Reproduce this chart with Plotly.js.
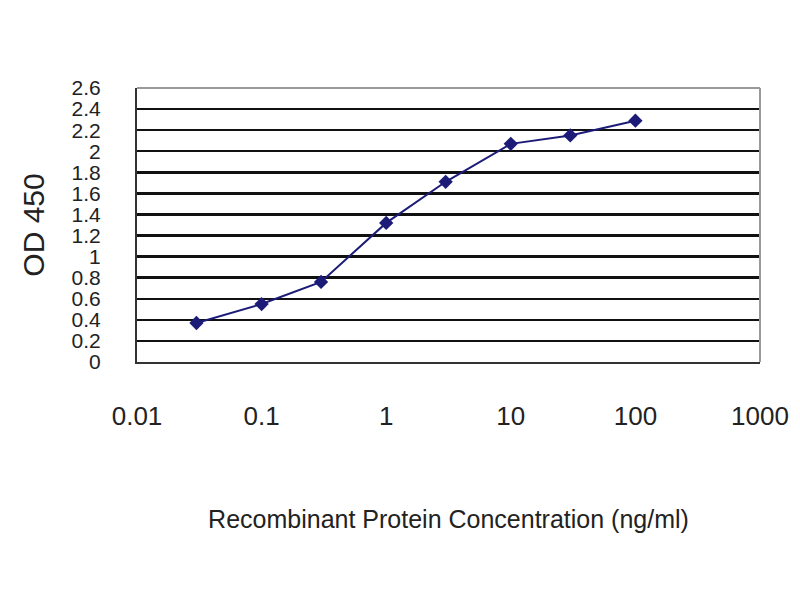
<!DOCTYPE html>
<html>
<head>
<meta charset="utf-8">
<script src="https://cdn.plot.ly/plotly-3.0.1.min.js"></script>
<style>html,body{margin:0;padding:0;background:#fff;}#chart{width:800px;height:600px;}</style>
</head>
<body>
<div id="chart"></div>
<script>
const concentrations = [0.03, 0.1, 0.3, 1, 3, 10, 30, 100];
const odValues = [0.37, 0.55, 0.76, 1.32, 1.71, 2.07, 2.15, 2.29];
const xTickVals = [0.01, 0.1, 1, 10, 100, 1000];
const xTickText = ['0.01', '0.1', '1', '10', '100', '1000'];
const yTickVals = [0, 0.2, 0.4, 0.6, 0.8, 1, 1.2, 1.4, 1.6, 1.8, 2, 2.2, 2.4, 2.6];
const yTickText = ['0', '0.2', '0.4', '0.6', '0.8', '1', '1.2', '1.4', '1.6', '1.8', '2', '2.2', '2.4', '2.6'];

const trace = {
  x: concentrations,
  y: odValues,
  mode: 'lines+markers',
  type: 'scatter',
  line: {color: '#1c1c78', width: 2},
  marker: {symbol: 'diamond', size: 11, color: '#1c1c78'},
  showlegend: false
};

const layout = {
  width: 800, height: 600,
  margin: {l: 137, r: 40, t: 88, b: 238},
  paper_bgcolor: '#ffffff',
  plot_bgcolor: '#ffffff',
  font: {family: 'Liberation Sans, Arial, sans-serif', color: '#222'},
  xaxis: {
    type: 'log',
    range: [-2, 3],
    tickvals: xTickVals,
    ticktext: xTickText,
    tickfont: {size: 26, color: '#222'},
    showgrid: false,
    zeroline: false,
    showline: true,
    linecolor: '#333',
    linewidth: 2,
    ticks: '',
    ticklabelstandoff: 30,
    title: {text: 'Recombinant Protein Concentration (ng/ml)', font: {size: 25, color: '#222'}, standoff: 80}
  },
  yaxis: {
    range: [0, 2.6],
    tickvals: yTickVals,
    ticktext: yTickText,
    tickfont: {size: 21, color: '#222'},
    showgrid: true,
    gridcolor: '#111',
    gridwidth: 2.5,
    zeroline: false,
    showline: true,
    linecolor: '#333',
    linewidth: 2,
    ticks: '',
    ticklabelstandoff: 30,
    title: {text: 'OD 450', font: {size: 30, color: '#222'}, standoff: 18}
  },
  shapes: [
    {type: 'line', xref: 'paper', yref: 'paper', x0: 0, x1: 1, y0: 1, y1: 1, line: {color: '#999', width: 2}},
    {type: 'line', xref: 'paper', yref: 'paper', x0: 1, x1: 1, y0: 0, y1: 1, line: {color: '#999', width: 2}}
  ]
};

Plotly.newPlot('chart', [trace], layout, {staticPlot: true, displayModeBar: false});
</script>
</body>
</html>
